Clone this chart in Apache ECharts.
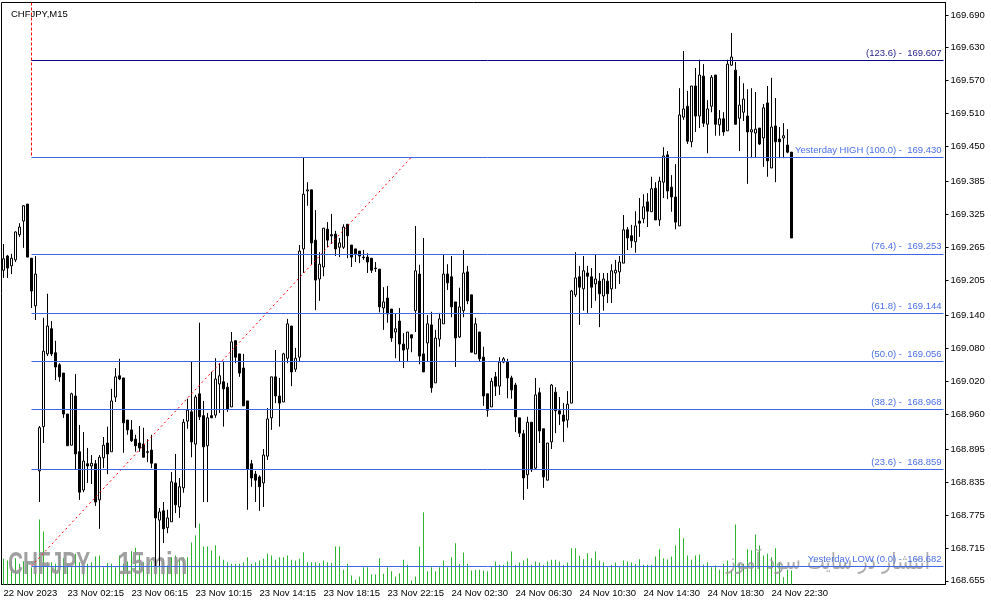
<!DOCTYPE html>
<html>
<head>
<meta charset="utf-8">
<title>CHFJPY,M15</title>
<script src="https://cdn.jsdelivr.net/npm/echarts@6/dist/echarts.min.js"></script>
<style>
  html, body { margin: 0; padding: 0; background: #fff; }
  #chart { width: 991px; height: 605px; }
</style>
</head>
<body>
<div id="chart"></div>
<script>
// CHFJPY M15 candles (open / close / low / high)
const opens = [
  169.223,169.249,169.231,169.242,169.288,169.313,169.344,169.245,169.158,168.856,
  168.937,169.070,169.116,169.072,169.050,169.035,168.960,168.903,168.993,168.891,
  168.821,168.869,168.865,168.869,168.803,168.880,168.907,168.891,168.991,169.030,
  169.026,168.949,168.931,168.914,168.907,168.905,168.891,168.894,168.869,168.766,
  168.783,168.752,168.763,168.834,168.790,168.825,168.947,168.964,168.905,168.997,
  168.957,168.902,168.957,168.958,169.015,169.019,169.009,168.973,169.094,169.070,
  169.044,168.984,168.869,168.850,168.845,168.834,168.883,168.953,169.028,168.993,
  168.982,169.062,169.121,169.042,169.064,169.262,169.368,169.370,169.278,169.207,
  169.229,169.298,169.288,169.289,169.265,169.265,169.307,169.269,169.262,169.258,
  169.247,169.247,169.245,169.227,169.225,169.154,169.172,169.152,169.110,169.130,
  169.088,169.079,169.105,169.149,169.216,169.070,169.090,169.123,169.017,169.097,
  169.125,169.216,169.211,169.165,169.101,169.149,169.220,169.178,169.070,169.110,
  169.064,168.997,168.973,169.028,169.011,169.055,169.055,169.026,169.013,168.953,
  168.924,168.849,168.945,168.861,168.999,168.933,168.839,168.909,169.000,168.966,
  168.958,168.949,168.980,169.178,169.211,169.189,169.218,169.211,169.198,169.203,
  169.176,169.203,169.189,169.218,169.220,169.236,169.297,169.286,169.275,169.313,
  169.317,169.348,169.330,169.373,169.315,169.384,169.434,169.375,169.357,169.304,
  169.503,169.523,169.458,169.560,169.505,169.578,169.490,169.523,169.580,169.489,
  169.500,169.478,169.598,169.589,169.501,169.512,169.505,169.476,169.474,169.483,
  169.465,169.529,169.410,169.487,169.463,169.465,169.452,169.439
];
const closes = [
  169.244,169.227,169.245,169.293,169.302,169.341,169.247,169.185,169.216,168.935,
  169.075,169.121,169.070,169.046,169.028,168.960,168.902,168.997,168.887,168.817,
  168.874,168.865,168.870,168.799,168.881,168.903,168.887,168.984,169.028,169.024,
  168.944,168.931,168.911,168.902,168.898,168.881,168.890,168.870,168.770,168.781,
  168.750,168.770,168.836,168.794,168.827,168.945,168.967,168.909,168.991,168.955,
  168.900,168.953,168.953,169.024,169.030,169.006,168.969,169.092,169.064,169.035,
  168.975,168.859,168.843,168.839,168.827,168.885,168.951,169.028,168.993,168.980,
  169.070,169.125,169.037,169.062,169.258,169.362,169.370,169.273,169.205,169.234,
  169.300,169.278,169.286,169.262,169.273,169.302,169.286,169.247,169.253,169.249,
  169.246,169.238,169.223,169.226,169.156,169.165,169.143,169.099,169.116,169.088,
  169.077,169.110,169.099,169.222,169.066,169.037,169.125,169.008,169.099,169.134,
  169.216,169.200,169.156,169.099,169.156,169.218,169.167,169.073,169.125,169.061,
  168.993,168.967,169.020,169.011,169.055,169.061,169.026,169.004,168.955,168.925,
  168.843,168.945,168.858,168.995,168.929,168.845,168.907,169.013,168.966,168.960,
  168.947,168.978,169.185,169.209,169.192,169.222,169.212,169.192,169.207,169.180,
  169.207,169.180,169.222,169.223,169.238,169.297,169.282,169.277,169.304,169.309,
  169.339,169.331,169.372,169.315,169.386,169.432,169.368,169.357,169.311,169.507,
  169.518,169.459,169.560,169.505,169.580,169.492,169.518,169.576,169.490,169.500,
  169.476,169.600,169.613,169.490,169.525,169.536,169.476,169.480,169.481,169.454,
  169.520,169.423,169.485,169.458,169.458,169.469,169.439,169.282
];
const lows = [
  169.209,169.209,169.216,169.238,169.284,169.264,169.247,169.154,169.132,168.799,
  168.907,169.066,169.066,169.022,169.019,168.953,168.902,168.903,168.859,168.803,
  168.817,168.834,168.832,168.792,168.750,168.861,168.850,168.891,168.982,169.022,
  168.889,168.922,168.909,168.891,168.891,168.881,168.872,168.861,168.681,168.682,
  168.724,168.742,168.763,168.779,168.770,168.816,168.933,168.881,168.752,168.949,
  168.799,168.799,168.953,168.953,168.962,168.937,168.964,168.973,169.053,169.028,
  168.975,168.785,168.827,168.799,168.783,168.790,168.876,168.931,168.980,168.937,
  168.982,169.053,169.011,169.037,169.055,169.218,169.341,169.233,169.150,169.167,
  169.212,169.265,169.271,169.249,169.247,169.262,169.245,169.229,169.238,169.236,
  169.242,169.218,169.218,169.220,169.146,169.114,169.127,169.092,169.062,169.055,
  169.044,169.055,169.073,169.110,169.051,169.037,169.055,168.999,169.017,169.083,
  169.125,169.187,169.137,169.046,169.099,169.137,169.161,169.073,169.070,169.055,
  168.975,168.955,168.973,168.993,168.995,169.053,168.989,168.988,168.927,168.918,
  168.803,168.823,168.854,168.858,168.907,168.825,168.839,168.896,168.925,168.940,
  168.909,168.935,168.980,169.174,169.123,169.149,169.145,169.154,169.167,169.119,
  169.149,169.163,169.163,169.189,169.198,169.236,169.260,169.264,169.255,169.284,
  169.309,169.302,169.330,169.315,169.304,169.355,169.353,169.330,169.298,169.304,
  169.498,169.454,169.448,169.476,169.483,169.485,169.437,169.512,169.469,169.469,
  169.469,169.478,169.597,169.490,169.441,169.496,169.381,169.428,169.430,169.452,
  169.412,169.394,169.410,169.384,169.428,169.428,169.437,169.282
];
const highs = [
  169.271,169.251,169.253,169.294,169.309,169.342,169.344,169.245,169.249,168.938,
  169.136,169.180,169.130,169.094,169.053,169.035,168.960,168.999,169.033,168.940,
  168.927,168.898,168.885,168.876,168.885,168.918,168.937,169.006,169.044,169.061,
  169.026,168.949,168.949,168.922,168.938,168.935,168.914,168.922,168.869,168.788,
  168.799,168.785,168.854,168.887,168.843,168.951,168.988,169.057,168.995,169.127,
  168.984,168.962,169.037,169.062,169.053,169.055,169.017,169.110,169.095,169.070,
  169.070,168.984,168.876,168.856,168.848,168.896,168.971,169.028,169.077,169.026,
  169.072,169.134,169.121,169.081,169.269,169.430,169.384,169.370,169.333,169.256,
  169.300,169.311,169.326,169.295,169.282,169.307,169.307,169.269,169.262,169.258,
  169.260,169.254,169.245,169.238,169.225,169.192,169.194,169.152,169.143,169.154,
  169.108,169.110,169.105,169.304,169.233,169.282,169.141,169.147,169.114,169.145,
  169.251,169.234,169.249,169.165,169.191,169.260,169.231,169.178,169.136,169.110,
  169.083,168.997,169.026,169.037,169.064,169.064,169.061,169.030,169.017,168.953,
  168.931,168.955,168.945,169.026,169.008,168.933,168.907,169.015,169.009,168.991,
  168.980,169.002,169.187,169.256,169.231,169.249,169.231,169.227,169.251,169.218,
  169.218,169.218,169.234,169.242,169.249,169.324,169.302,169.306,169.331,169.355,
  169.362,169.364,169.394,169.384,169.394,169.448,169.441,169.397,169.417,169.556,
  169.624,169.551,169.560,169.593,169.608,169.600,169.534,169.580,169.580,169.516,
  169.512,169.608,169.657,169.604,169.578,169.565,169.554,169.556,169.549,169.483,
  169.527,169.560,169.575,169.538,169.485,169.492,169.481,169.439
];
// tick volumes
const volumes = [
  514,480,480,526,414,466,446,346,514,1300,
  1060,446,446,414,580,526,414,346,614,446,
  380,414,446,560,580,346,434,414,346,580,
  414,460,666,734,614,446,400,466,414,414,
  514,380,546,580,534,546,546,840,980,1220,
  760,760,680,786,574,494,446,414,414,414,
  446,546,414,446,480,514,614,580,494,546,
  546,580,494,480,514,646,446,446,446,426,
  480,446,434,760,760,294,414,180,94,160,
  346,346,200,200,526,214,346,266,160,226,
  494,394,80,160,760,1446,266,346,266,346,
  480,346,546,826,414,640,414,280,294,294,
  280,266,346,460,394,394,460,660,394,440,
  480,526,394,460,440,394,460,494,494,460,
  394,440,726,726,574,506,626,526,660,480,
  440,346,394,440,346,480,460,440,414,506,
  394,394,394,560,706,526,500,560,780,1126,
  926,580,494,580,600,400,440,346,380,294,
  414,480,294,1200,414,414,706,680,1000,780,
  580,614,546,726,440,146,294,280
];
// Fibonacci levels between yesterday's low and high
const fibRatios = ['123.6', '100.0', '76.4', '61.8', '50.0', '38.2', '23.6', '0.0'];
const fibPrices = [169.607, 169.430, 169.253, 169.144, 169.056, 168.968, 168.859, 168.682];
const fibNames  = ['', 'Yesterday HIGH ', '', '', '', '', '', 'Yesterday LOW '];
const fibStartBar = 7;    // bar of yesterday's low anchor
const fibEndBar = 102;    // bar of yesterday's high anchor

const priceTicks = [169.690,169.630,169.570,169.510,169.450,169.385,169.325,169.265,169.205,
                    169.140,169.080,169.020,168.960,168.895,168.835,168.775,168.715,168.655];
const timeLabels = ['22 Nov 2023','23 Nov 02:15','23 Nov 06:15','23 Nov 10:15','23 Nov 14:15',
                    '23 Nov 18:15','23 Nov 22:15','24 Nov 02:30','24 Nov 06:30','24 Nov 10:30',
                    '24 Nov 14:30','24 Nov 18:30','24 Nov 22:30'];
const labelEvery = 16;

const priceMin = 168.6482, priceMax = 169.7127;
const slotCount = 236;   // bars plus the empty shift area on the right

// 15 minute categories, the 00:00 bar of 24 Nov is missing in the feed
const categories = [];
let t = Date.UTC(2023, 10, 22, 22, 15);
while (categories.length < slotCount) {
  const d = new Date(t);
  if (!(d.getUTCDate() === 24 && d.getUTCHours() === 0 && d.getUTCMinutes() === 0)) {
    categories.push(d.toISOString().slice(0, 16).replace('T', ' '));
  }
  t += 15 * 60000;
}

const candles = opens.map((o, i) => [o, closes[i], lows[i], highs[i]]);
const FONT = 'Liberation Sans, Arial, sans-serif';
const showTick = (idx) => idx % labelEvery === 0 && idx / labelEvery < timeLabels.length;

const fibLines = fibPrices.map((p, i) => [
  {
    coord: [fibStartBar, p],
    lineStyle: { color: i === 0 ? '#000080' : '#3d66e8', width: 1, type: 'solid', opacity: 1 },
    label: {
      formatter: fibNames[i] + '(' + fibRatios[i] + ') -  ' + p.toFixed(3),
      color: i === 0 ? '#26268a' : '#4a70e6'
    }
  },
  { coord: [slotCount - 1, p] }
]);

const chart = echarts.init(document.getElementById('chart'));
chart.setOption({
  animation: false,
  backgroundColor: '#fff',
  title: {
    text: 'CHFJPY,M15', left: 6, top: 4,
    textStyle: { fontSize: 9.5, fontWeight: 'normal', color: '#000', fontFamily: FONT }
  },
  grid: { left: 1.5, right: 45.5, top: 2.5, bottom: 20.5, show: true, borderColor: '#000', borderWidth: 1 },
  xAxis: {
    type: 'category',
    data: categories,
    boundaryGap: true,
    axisLine: { lineStyle: { color: '#000', width: 1 } },
    axisTick: { alignWithLabel: true, interval: showTick, length: 3, lineStyle: { color: '#000' } },
    axisLabel: {
      interval: showTick,
      formatter: (v, idx) => timeLabels[idx / labelEvery],
      align: 'left', margin: 4, fontSize: 9.5, color: '#000', fontFamily: FONT
    },
    splitLine: { show: false }
  },
  yAxis: [
    {
      type: 'value', position: 'right', min: priceMin, max: priceMax,
      axisLine: { show: true, lineStyle: { color: '#000' } },
      axisTick: { show: true, length: 3, customValues: priceTicks, lineStyle: { color: '#000' } },
      axisLabel: {
        customValues: priceTicks, formatter: (v) => v.toFixed(3),
        margin: 5, fontSize: 9.5, color: '#000', fontFamily: FONT
      },
      splitLine: { show: false }
    },
    { type: 'value', min: 0, max: 11640, show: false }
  ],
  graphic: [
    {
      type: 'text', x: 8, y: 565, scaleX: 0.65, z: 1, silent: true,
      style: { text: 'CHFJPY', font: 'bold 32px Liberation Sans', fill: 'rgba(150,150,150,0.9)', verticalAlign: 'middle' }
    },
    {
      type: 'text', x: 118, y: 565, scaleX: 0.75, z: 1, silent: true,
      style: { text: '15min', font: 'bold 32px Liberation Sans', fill: 'rgba(150,150,150,0.9)', verticalAlign: 'middle' }
    },
    {
      type: 'text', x: 930, y: 563, scaleX: 0.86, z: 1, silent: true,
      style: { text: 'انتشار در سایت سود آموز', font: '22px DejaVu Sans', fill: 'rgba(150,150,150,0.8)', align: 'right', verticalAlign: 'middle' }
    }
  ],
  series: [
    {
      name: 'Volume', type: 'bar', yAxisIndex: 1, z: 0,
      data: volumes, barWidth: 1,
      itemStyle: { color: '#2db42d' }, silent: true
    },
    {
      name: 'CHFJPY', type: 'candlestick', z: 2,
      data: candles, barWidth: 3,
      itemStyle: { color: '#fff', color0: '#000', borderColor: '#000', borderColor0: '#000', borderWidth: 1 },
      markLine: {
        silent: true, symbol: ['none', 'none'], animation: false,
        lineStyle: { color: '#3d66e8', width: 1, type: 'solid', opacity: 1 },
        label: { show: true, position: 'insideEndTop', distance: [2, 2], fontSize: 9.5, fontFamily: FONT },
        data: fibLines
      }
    },
    {
      name: 'fibo trend', type: 'line', z: 3, symbol: 'none', silent: true,
      data: [[fibStartBar, fibPrices[7]], [fibEndBar, fibPrices[1]]],
      lineStyle: { color: '#ff0000', width: 1, type: [2, 3] }
    },
    {
      name: 'fibo anchor', type: 'line', z: 3, symbol: 'none', silent: true,
      data: [[fibStartBar, priceMax], [fibStartBar, fibPrices[1]]],
      lineStyle: { color: '#ff0000', width: 1, type: [3, 2] }
    }
  ]
});
</script>
</body>
</html>
